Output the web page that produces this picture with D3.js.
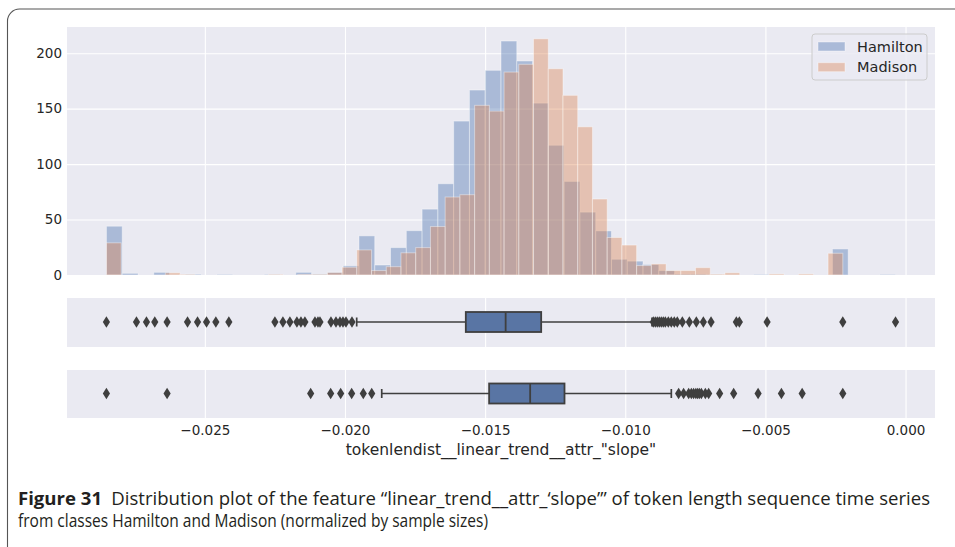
<!DOCTYPE html>
<html>
<head>
<meta charset="utf-8">
<script src="https://cdn.jsdelivr.net/npm/d3@7"></script>
<style>
  body { margin: 0; background: #ffffff; }
  svg { display: block; }
</style>
</head>
<body>
<svg id="chart" width="955" height="547"></svg>
<script>
// ---- data -------------------------------------------------------------
const seriesNames = ["Hamilton", "Madison"];

// normalized histogram heights, 50 equal-width bins per class
const hamiltonCounts = [
  44, 1.5, 0, 2.4, 0, 0.7, 0, 0.5, 0, 0,
  0.5, 0, 2.4, 1, 2.5, 8.3, 35.3, 9, 24.7, 40,
  59.4, 82.3, 138.8, 166.8, 184.6, 211, 193, 155, 117, 84.4,
  56.7, 39.8, 14.2, 12.5, 9.5, 4, 1, 1, 0.5, 0,
  0, 0.5, 0, 0, 0, 0, 23.5, 0, 0, 0.5
];
const madisonCounts = [
  29, 0, 0, 0, 2, 0.5, 0, 0, 0, 0,
  0, 0.5, 0, 0.5, 0.5, 2.2, 7, 22.6, 4, 7.5,
  20, 24.7, 43.7, 70.3, 72.4, 153, 147.8, 183, 190, 213,
  186, 162, 133.6, 68.5, 33.8, 27, 8.5, 10, 4, 4,
  6.6, 0.7, 2, 0, 0, 1, 0, 1, 0, 19.6
];
// min / max of each class (bin edges span these)
const hamiltonRange = [-0.02851, -0.000357];
const madisonRange = [-0.02851, -0.002239];

// box statistics: lower whisker, q1, median, q3, upper whisker
const hamiltonBox = [-0.019582, -0.015689, -0.014268, -0.013000, -0.009046];
const madisonBox  = [-0.018689, -0.014857, -0.013393, -0.012168, -0.008357];

const hamiltonOutliers = [
  -0.028511, -0.027439, -0.027082, -0.026786, -0.026346, -0.025618, -0.025261,
  -0.024939, -0.024607, -0.024143, -0.0225, -0.022214, -0.021964, -0.021714,
  -0.021571, -0.021429, -0.021071, -0.020964, -0.020893, -0.0205, -0.020321,
  -0.020179, -0.020071, -0.019964, -0.01975,
  -0.009, -0.008929, -0.008857, -0.008786, -0.008714, -0.008643, -0.008571,
  -0.008464, -0.008357, -0.00825, -0.008143, -0.007964, -0.007714, -0.007464,
  -0.007214, -0.006939, -0.006036, -0.005929, -0.004939, -0.002239, -0.000357
];
const madisonOutliers = [
  -0.028511, -0.026346, -0.021225, -0.020511, -0.020154, -0.019761, -0.019346,
  -0.019046,
  -0.008096, -0.007918, -0.007739, -0.007643, -0.007561, -0.007482, -0.007418,
  -0.007357, -0.007286, -0.007143, -0.007025, -0.006632, -0.006132, -0.005261,
  -0.004429, -0.003689, -0.002239
];

const xTicks = [-0.025, -0.020, -0.015, -0.010, -0.005, 0.000];
const yTicks = [0, 50, 100, 150, 200];
const xLabel = 'tokenlendist__linear_trend__attr_"slope"';
const captionLead = "Figure 31";
const captionLine1 = "Distribution plot of the feature \u201Clinear_trend__attr_\u2018slope\u2019\u201D of token length sequence time series";
const captionLine2 = "from classes Hamilton and Madison (normalized by sample sizes)";

// ---- styling ------------------------------------------------------------
const COLORS = ["#4C72B0", "#DD8452"];
const BG = "#EAEAF2";
const INK = "#262626";
const BOX_FILL = "#5975A4";
const BOX_LINE = "#3F3F3F";
const FONT = "DejaVu Sans, sans-serif";
const CAPTION_FONT = "'Liberation Sans Narrow', 'Open Sans', Lato, sans-serif";

const plotLeft = 67, plotRight = 935;
const hist = { top: 27, bottom: 275 };
const boxPanels = [{ top: 298, bottom: 347 }, { top: 370, bottom: 418 }];

const svg = d3.select("#chart");

// figure frame with a rounded top-left corner
svg.append("path")
  .attr("d", "M7.5,547 L7.5,21 A12,12 0 0 1 19.5,9 L955,9")
  .attr("fill", "none")
  .attr("stroke", "#555555")
  .attr("stroke-width", 1.1);

// ---- scales -------------------------------------------------------------
const dataMin = Math.min(hamiltonRange[0], madisonRange[0]);
const dataMax = Math.max(hamiltonRange[1], madisonRange[1]);
const pad = (dataMax - dataMin) * 0.05;
const x = d3.scaleLinear().domain([dataMin - pad, dataMax + pad]).range([plotLeft, plotRight]);

const maxCount = d3.max([...hamiltonCounts, ...madisonCounts]);
const y = d3.scaleLinear().domain([0, maxCount * 1.05]).range([hist.bottom, hist.top]);

// ---- histogram panel ----------------------------------------------------
const gHist = svg.append("g");
gHist.append("rect")
  .attr("x", plotLeft).attr("y", hist.top)
  .attr("width", plotRight - plotLeft).attr("height", hist.bottom - hist.top)
  .attr("fill", BG);

function grid(g, top, bottom, withY) {
  g.append("g")
    .attr("transform", `translate(0,${bottom})`)
    .call(d3.axisBottom(x).tickValues(xTicks).tickSize(-(bottom - top)).tickFormat(""))
    .call(a => a.select(".domain").remove())
    .call(a => a.selectAll("line").attr("stroke", "#ffffff").attr("stroke-width", 1.1));
  if (withY) {
    g.append("g")
      .attr("transform", `translate(${plotLeft},0)`)
      .call(d3.axisLeft(y).tickValues(yTicks).tickSize(-(plotRight - plotLeft)).tickFormat(""))
      .call(a => a.select(".domain").remove())
      .call(a => a.selectAll("line").attr("stroke", "#ffffff").attr("stroke-width", 1.1));
  }
}
grid(gHist, hist.top, hist.bottom, true);

function binsOf(counts, range) {
  const w = (range[1] - range[0]) / counts.length;
  return counts.map((c, i) => ({ x0: range[0] + i * w, x1: range[0] + (i + 1) * w, c }));
}

[[hamiltonCounts, hamiltonRange], [madisonCounts, madisonRange]].forEach(([counts, range], s) => {
  gHist.append("g")
    .selectAll("rect")
    .data(binsOf(counts, range).filter(b => b.c > 0))
    .join("rect")
    .attr("x", b => x(b.x0))
    .attr("width", b => x(b.x1) - x(b.x0))
    .attr("y", b => y(b.c))
    .attr("height", b => y(0) - y(b.c))
    .attr("fill", COLORS[s])
    .attr("fill-opacity", 0.4)
    .attr("stroke", "#ffffff")
    .attr("stroke-opacity", 0.4)
    .attr("stroke-width", 1);
});

// y tick labels
gHist.append("g")
  .attr("transform", `translate(${plotLeft},0)`)
  .call(d3.axisLeft(y).tickValues(yTicks).tickSize(0).tickPadding(5).tickFormat(d3.format("d")))
  .call(a => a.select(".domain").remove())
  .call(a => a.selectAll("text").attr("fill", INK).style("font-family", FONT).style("font-size", "13.5px"));

// legend
const legend = svg.append("g").attr("transform", "translate(812,34)");
legend.append("rect")
  .attr("width", 115).attr("height", 46).attr("rx", 3)
  .attr("fill", BG).attr("fill-opacity", 0.8)
  .attr("stroke", "#CCCCCC").attr("stroke-width", 1);
seriesNames.forEach((name, i) => {
  const row = legend.append("g").attr("transform", `translate(6,${8 + i * 20.7})`);
  row.append("rect")
    .attr("width", 27).attr("height", 9)
    .attr("fill", COLORS[i]).attr("fill-opacity", 0.4)
    .attr("stroke", "#ffffff").attr("stroke-opacity", 0.4);
  row.append("text")
    .attr("x", 39).attr("y", 9.5)
    .attr("fill", INK)
    .style("font-family", FONT).style("font-size", "14.5px")
    .text(name);
});

// ---- box plots ----------------------------------------------------------
const boxes = [
  { stats: hamiltonBox, outliers: hamiltonOutliers },
  { stats: madisonBox, outliers: madisonOutliers }
];
const diamond = "M0,-5.8 L3.6,0 L0,5.8 L-3.6,0 Z";

boxes.forEach((b, i) => {
  const p = boxPanels[i];
  const g = svg.append("g");
  g.append("rect")
    .attr("x", plotLeft).attr("y", p.top)
    .attr("width", plotRight - plotLeft).attr("height", p.bottom - p.top)
    .attr("fill", BG);
  grid(g, p.top, p.bottom, false);

  const cy = (p.top + p.bottom) / 2 - 0.5;
  const halfBox = 10;
  const [lo, q1, med, q3, hi] = b.stats;

  // whiskers and caps
  const segs = [
    [lo, cy, q1, cy], [q3, cy, hi, cy],
    [lo, cy - 4.5, lo, cy + 4.5], [hi, cy - 4.5, hi, cy + 4.5]
  ];
  g.append("g").selectAll("line")
    .data(segs)
    .join("line")
    .attr("x1", d => x(d[0])).attr("y1", d => d[1])
    .attr("x2", d => x(d[2])).attr("y2", d => d[3])
    .attr("stroke", BOX_LINE).attr("stroke-width", 1.7);

  g.append("rect")
    .attr("x", x(q1)).attr("y", cy - halfBox)
    .attr("width", x(q3) - x(q1)).attr("height", 2 * halfBox)
    .attr("fill", BOX_FILL)
    .attr("stroke", BOX_LINE).attr("stroke-width", 1.8);
  g.append("line")
    .attr("x1", x(med)).attr("x2", x(med))
    .attr("y1", cy - halfBox).attr("y2", cy + halfBox)
    .attr("stroke", BOX_LINE).attr("stroke-width", 1.8);

  g.append("g")
    .selectAll("path")
    .data(b.outliers)
    .join("path")
    .attr("d", diamond)
    .attr("transform", d => `translate(${x(d)},${cy})`)
    .attr("fill", BOX_LINE);
});

// x tick labels under the last panel
const lastPanel = boxPanels[boxPanels.length - 1];
svg.append("g")
  .attr("transform", `translate(0,${lastPanel.bottom})`)
  .call(d3.axisBottom(x).tickValues(xTicks).tickSize(0).tickPadding(7).tickFormat(d3.format(".3f")))
  .call(a => a.select(".domain").remove())
  .call(a => a.selectAll("text").attr("fill", INK).style("font-family", FONT).style("font-size", "13.5px"));

svg.append("text")
  .attr("x", (plotLeft + plotRight) / 2).attr("y", 455)
  .attr("text-anchor", "middle")
  .attr("fill", INK)
  .style("font-family", FONT).style("font-size", "15.5px")
  .text(xLabel);

// ---- caption ------------------------------------------------------------
const capSize = 17.5;
const cap1 = svg.append("text")
  .attr("x", 18).attr("y", 505)
  .attr("fill", "#231F20")
  .style("font-family", CAPTION_FONT).style("font-size", capSize + "px");
cap1.append("tspan").style("font-weight", "bold").text(captionLead);
cap1.append("tspan").text("\u2002" + captionLine1);

const cap2 = svg.append("text")
  .attr("x", 18).attr("y", 527)
  .attr("fill", "#231F20")
  .style("font-family", CAPTION_FONT).style("font-size", capSize + "px")
  .text(captionLine2);

// fit both caption lines to the text block width
[[cap1, 912], [cap2, 470]].forEach(([t, w]) => {
  const natural = t.node().getComputedTextLength();
  if (Math.abs(natural - w) > 2) t.attr("textLength", w).attr("lengthAdjust", "spacingAndGlyphs");
});
</script>
</body>
</html>
